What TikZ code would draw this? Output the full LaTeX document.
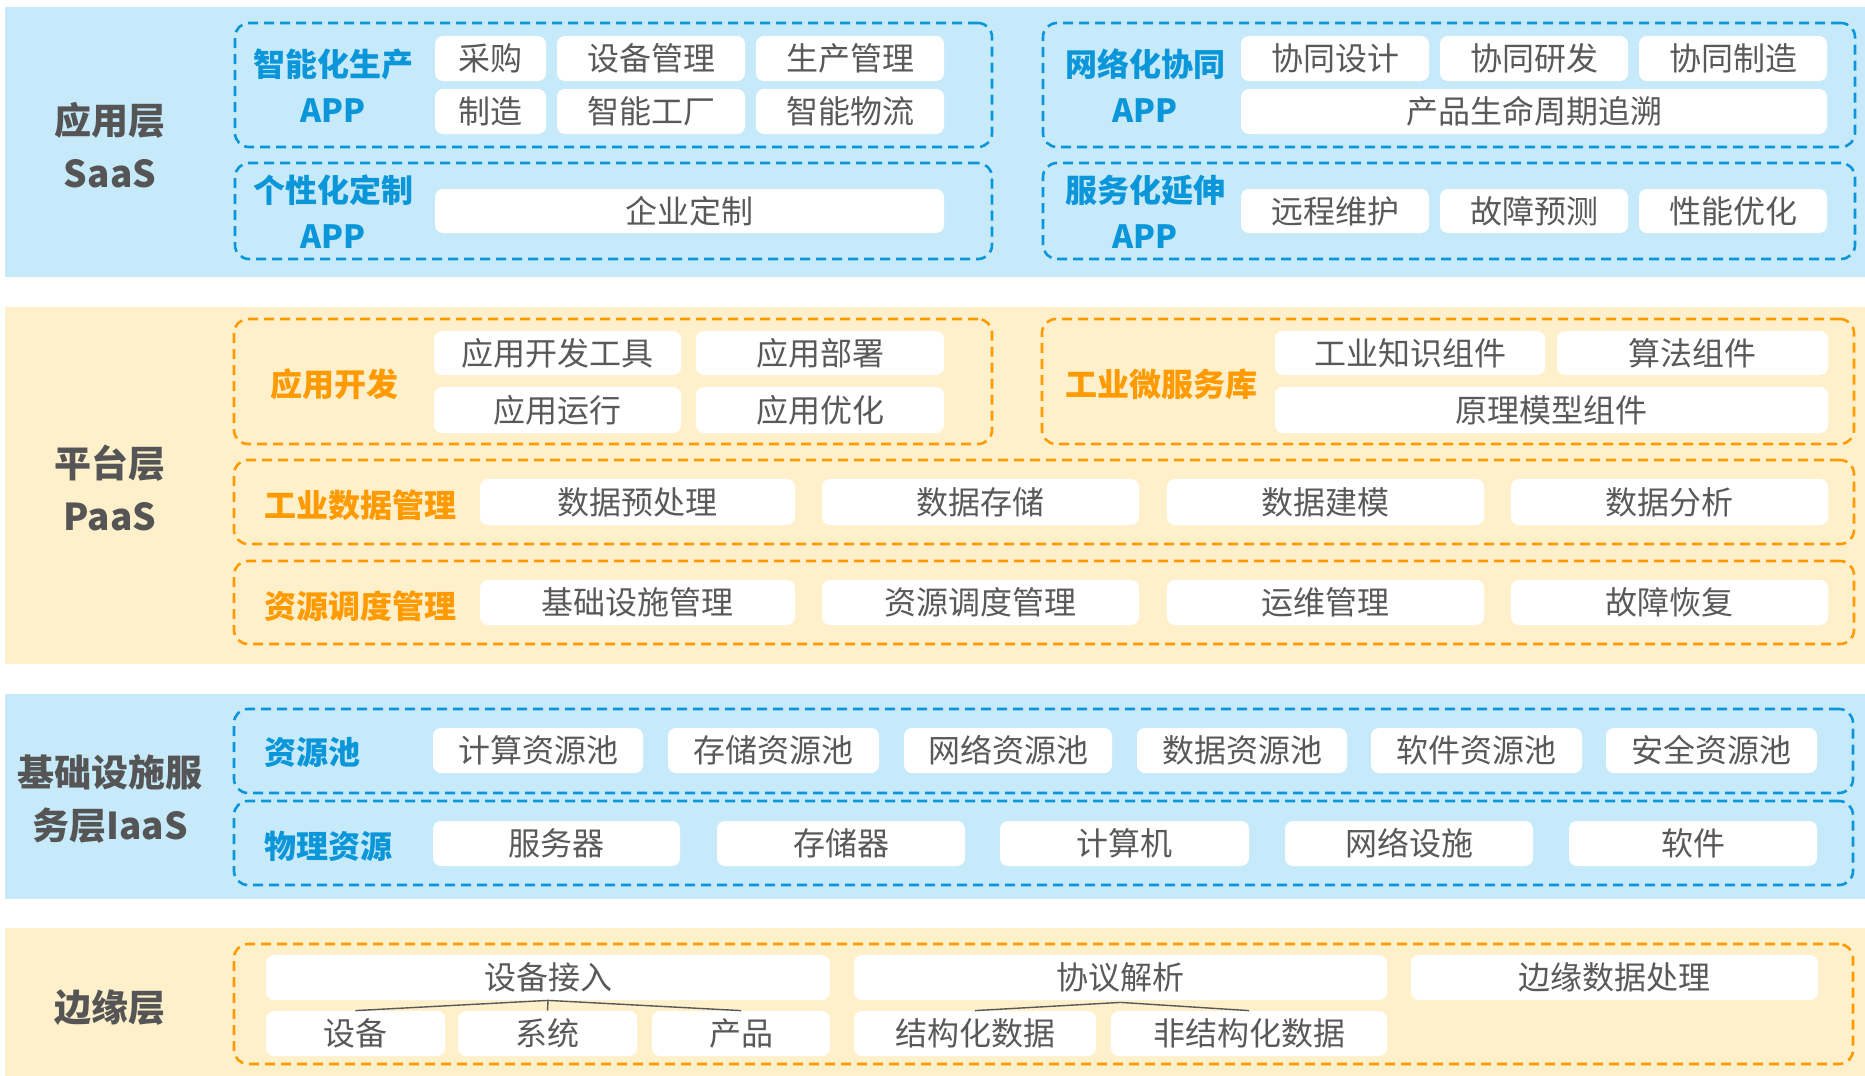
\documentclass[tikz,border=0pt]{standalone}
\usepackage{fontspec}
\setmainfont{Noto Sans CJK SC}
\definecolor{bandblue}{HTML}{C7EAFB}
\definecolor{bandorange}{HTML}{FFF0CC}
\definecolor{lblblue}{HTML}{0B96DA}
\definecolor{lblorange}{HTML}{FF9A00}
\definecolor{txtgray}{HTML}{595959}
\definecolor{laygray}{HTML}{555555}
\newcommand{\mkcell}[6]{\node[cell,minimum width={(#4-(#2))*0.5pt},minimum height={(#5-(#3))*0.5pt}] (#1) at ({(#2+#4)/2},{(#3+#5)/2}) {#6};}
\newcommand{\mkgrp}[6]{\node[grp,draw=#6,minimum width={(#4-(#2))*0.5pt},minimum height={(#5-(#3))*0.5pt}] (#1) at ({(#2+#4)/2},{(#3+#5)/2}) {};}
\newcommand{\mkband}[6]{\node[band,fill=#6,minimum width={(#4-(#2))*0.5pt},minimum height={(#5-(#3))*0.5pt}] (#1) at ({(#2+#4)/2},{(#3+#5)/2}) {};}
\begin{document}
\begin{tikzpicture}[x=0.5pt,y=-0.5pt,
  band/.style={rectangle,draw=none,inner sep=0pt,outer sep=0pt},
  grp/.style={rectangle,line width=1.3pt,dash pattern=on 5pt off 3pt,rounded corners=7pt,inner sep=0pt,fill=none},
  cell/.style={rectangle,fill=white,rounded corners=4pt,inner sep=0pt,text=txtgray,font=\fontsize{16pt}{19pt}\selectfont},
  layer/.style={text=laygray,font=\fontsize{18.5pt}{26.5pt}\selectfont\bfseries,align=center,inner sep=0pt},
  bluelbl/.style={text=lblblue,font=\fontsize{16pt}{23pt}\selectfont\bfseries,align=center,inner sep=0pt},
  orglbl/.style={text=lblorange,font=\fontsize{16pt}{23pt}\selectfont\bfseries,align=center,inner sep=0pt},
  link/.style={draw=txtgray,line width=0.7pt}]
\useasboundingbox (0,0) rectangle (1865,1076);
% bands
\mkband{saas}{5}{7}{1865}{277}{bandblue}
\mkband{paas}{5}{307}{1865}{664}{bandorange}
\mkband{iaas}{5}{694}{1865}{899}{bandblue}
\mkband{edge}{5}{928}{1865}{1076}{bandorange}
% layer labels
\node[layer] (lsaas) at (110,145) {应用层\\SaaS};
\node[layer] (lpaas) at (110,488) {平台层\\PaaS};
\node[layer] (liaas) at (110,799) {基础设施服\\务层IaaS};
\node[layer] (ledge) at (110,1008) {边缘层};
% ---------------- SaaS ----------------
\mkgrp{g1}{235}{23}{992}{147}{lblblue}
\mkgrp{g2}{235}{163}{992}{259}{lblblue}
\mkgrp{g3}{1043}{23}{1855}{147}{lblblue}
\mkgrp{g4}{1043}{163}{1855}{259}{lblblue}
\node[bluelbl] (t1) at (333,86) {智能化生产\\APP};
\node[bluelbl] (t2) at (333,212) {个性化定制\\APP};
\node[bluelbl] (t3) at (1145,86) {网络化协同\\APP};
\node[bluelbl] (t4) at (1145,212) {服务化延伸\\APP};
\mkcell{a1}{435}{36}{546}{81}{采购}
\mkcell{a2}{557}{36}{745}{81}{设备管理}
\mkcell{a3}{756}{36}{944}{81}{生产管理}
\mkcell{a4}{435}{89}{546}{134}{制造}
\mkcell{a5}{557}{89}{745}{134}{智能工厂}
\mkcell{a6}{756}{89}{944}{134}{智能物流}
\mkcell{b1}{435}{189}{944}{233}{企业定制}
\mkcell{c1}{1241}{36}{1429}{81}{协同设计}
\mkcell{c2}{1440}{36}{1628}{81}{协同研发}
\mkcell{c3}{1639}{36}{1827}{81}{协同制造}
\mkcell{c4}{1241}{89}{1827}{134}{产品生命周期追溯}
\mkcell{d1}{1241}{189}{1429}{233}{远程维护}
\mkcell{d2}{1440}{189}{1628}{233}{故障预测}
\mkcell{d3}{1639}{189}{1827}{233}{性能优化}
% ---------------- PaaS ----------------
\mkgrp{g5}{234}{319}{992}{444}{lblorange}
\mkgrp{g6}{1042}{319}{1854}{444}{lblorange}
\mkgrp{g7}{234}{460}{1854}{544}{lblorange}
\mkgrp{g8}{234}{561}{1854}{644}{lblorange}
\node[orglbl] (t5) at (334,384) {应用开发};
\node[orglbl] (t6) at (1161,384) {工业微服务库};
\node[orglbl,anchor=west] (t7) at (264,505) {工业数据管理};
\node[orglbl,anchor=west] (t8) at (264,606) {资源调度管理};
\mkcell{e1}{434}{331}{681}{375}{应用开发工具}
\mkcell{e2}{696}{331}{944}{375}{应用部署}
\mkcell{e3}{434}{387}{681}{433}{应用运行}
\mkcell{e4}{696}{387}{944}{433}{应用优化}
\mkcell{f1}{1275}{331}{1545}{375}{工业知识组件}
\mkcell{f2}{1557}{331}{1828}{375}{算法组件}
\mkcell{f3}{1275}{387}{1828}{433}{原理模型组件}
\mkcell{h1}{480}{479}{795}{525}{数据预处理}
\mkcell{h2}{822}{479}{1139}{525}{数据存储}
\mkcell{h3}{1167}{479}{1484}{525}{数据建模}
\mkcell{h4}{1511}{479}{1828}{525}{数据分析}
\mkcell{k1}{480}{580}{795}{625}{基础设施管理}
\mkcell{k2}{822}{580}{1139}{625}{资源调度管理}
\mkcell{k3}{1167}{580}{1484}{625}{运维管理}
\mkcell{k4}{1511}{580}{1828}{625}{故障恢复}
% ---------------- IaaS ----------------
\mkgrp{g9}{234}{709}{1853}{793}{lblblue}
\mkgrp{g10}{234}{801}{1853}{885}{lblblue}
\node[bluelbl,anchor=west] (t9) at (264,752) {资源池};
\node[bluelbl,anchor=west] (t10) at (264,846) {物理资源};
\mkcell{m1}{433}{728}{643}{773}{计算资源池}
\mkcell{m2}{668}{728}{879}{773}{存储资源池}
\mkcell{m3}{904}{728}{1112}{773}{网络资源池}
\mkcell{m4}{1137}{728}{1347}{773}{数据资源池}
\mkcell{m5}{1371}{728}{1582}{773}{软件资源池}
\mkcell{m6}{1606}{728}{1817}{773}{安全资源池}
\mkcell{n1}{433}{821}{680}{866}{服务器}
\mkcell{n2}{717}{821}{965}{866}{存储器}
\mkcell{n3}{1000}{821}{1249}{866}{计算机}
\mkcell{n4}{1285}{821}{1533}{866}{网络设施}
\mkcell{n5}{1569}{821}{1817}{866}{软件}
% ---------------- Edge ----------------
\mkgrp{g11}{234}{944}{1853}{1064}{lblorange}
\mkcell{p1}{266}{955}{830}{1000}{设备接入}
\mkcell{p2}{266}{1011}{445}{1056}{设备}
\mkcell{p3}{458}{1011}{637}{1056}{系统}
\mkcell{p4}{652}{1011}{830}{1056}{产品}
\mkcell{q1}{854}{955}{1387}{1000}{协议解析}
\mkcell{q2}{854}{1011}{1096}{1056}{结构化数据}
\mkcell{q3}{1111}{1011}{1387}{1056}{非结构化数据}
\mkcell{r1}{1411}{955}{1818}{1000}{边缘数据处理}
\draw[link] (p1.south) -- (p2.north);
\draw[link] (p1.south) -- (p3.north);
\draw[link] (p1.south) -- (p4.north);
\draw[link] ([yshift=-1pt]q1.south) -- (q2.north);
\draw[link] ([yshift=-1pt]q1.south) -- (q3.north);
\end{tikzpicture}
\end{document}
